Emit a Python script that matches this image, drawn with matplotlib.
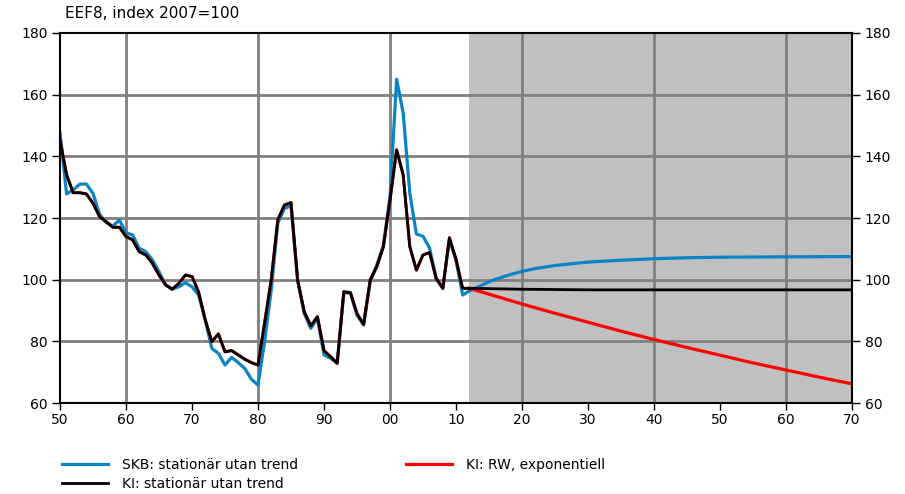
import numpy as np
import matplotlib
matplotlib.use("Agg")
import matplotlib.pyplot as plt

# historical years 1950-2012
hist_years = list(range(1950, 2013))

# SKB (blue), historical
skb_hist = [147.7, 127.8, 129.1, 131.0, 131.0, 128.0, 121.2, 118.5, 117.4, 119.3,
            115.2, 114.5, 110.2, 109.1, 106.4, 102.6, 98.3, 96.9, 97.7, 99.0,
            97.7, 95.0, 87.0, 77.7, 76.1, 72.3, 74.8, 73.1, 71.2, 67.7,
            65.8, 80.0, 96.6, 118.3, 123.1, 123.9, 99.9, 89.1, 84.2, 87.5,
            75.6, 74.5, 72.9, 95.8, 95.6, 88.5, 85.3, 99.3, 104.8, 111.2,
            127.0, 165.0, 154.0, 128.0, 114.8, 114.1, 110.2, 100.4, 97.2, 112.9,
            106.4, 95.0, 96.3]

# KI (black), historical
ki_hist = [145.3, 134.0, 128.2, 128.2, 127.8, 124.8, 120.4, 118.8, 117.0, 117.0,
           114.0, 112.9, 109.1, 108.0, 105.3, 101.5, 98.3, 96.9, 98.8, 101.5,
           101.0, 96.0, 87.0, 79.9, 82.4, 76.6, 77.0, 75.6, 74.2, 73.1,
           72.3, 86.0, 99.9, 119.4, 124.2, 125.0, 99.9, 89.6, 85.0, 88.0,
           77.0, 75.0, 72.9, 96.1, 95.8, 89.0, 85.5, 99.9, 104.2, 110.7,
           125.8, 142.1, 133.9, 110.7, 103.1, 108.0, 108.8, 100.4, 97.2, 113.6,
           106.6, 97.2, 97.2]

# forecasts from 2012
skb_fc_years = [2012, 2013, 2014, 2015, 2016, 2018, 2020, 2022, 2025, 2030,
                2035, 2040, 2045, 2050, 2060, 2070]
skb_fc = [96.3, 97.3, 98.3, 99.3, 100.1, 101.5, 102.7, 103.6, 104.6, 105.7,
          106.3, 106.8, 107.1, 107.3, 107.4, 107.5]

ki_fc_years = [2012, 2020, 2030, 2040, 2050, 2060, 2070]
ki_fc = [97.2, 96.9, 96.7, 96.7, 96.7, 96.7, 96.7]

rw_fc_years = [2012, 2015, 2020, 2025, 2030, 2035, 2040, 2045, 2050, 2055,
               2060, 2065, 2070]
rw_fc = [97.2, 95.3, 92.1, 89.1, 86.2, 83.3, 80.6, 78.0, 75.5, 73.0,
         70.7, 68.4, 66.2]

xtick_pos = list(range(1950, 2071, 10))
xtick_labels = ["50", "60", "70", "80", "90", "00", "10", "20", "30", "40", "50", "60", "70"]
ytick_pos = list(range(60, 181, 20))

blue = "#0a84c6"
red = "#ff0000"

fig = plt.figure(figsize=(9.05, 4.94), dpi=100)
ax = fig.add_axes([60 / 905, 1 - 403 / 494, 792 / 905, 370 / 494])

# forecast shading
ax.axvspan(2012, 2070, color="#c0c0c0", lw=0, zorder=0)

# grid
for x in range(1960, 2070, 20):
    ax.axvline(x, color="#808080", lw=2, zorder=1)
for y in range(80, 180, 20):
    ax.axhline(y, color="#808080", lw=2, zorder=1)

# series
ax.plot(hist_years, skb_hist, color=blue, lw=2.3, zorder=3,
        label="SKB: stationär utan trend")
ax.plot(skb_fc_years, skb_fc, color=blue, lw=2.3, zorder=3)
ax.plot(hist_years, ki_hist, color=red, lw=2.15, zorder=4)
ax.plot(rw_fc_years, rw_fc, color=red, lw=2.3, zorder=4)
ax.plot(hist_years, ki_hist, color="black", lw=2.0, zorder=5,
        label="KI: stationär utan trend")
ax.plot(ki_fc_years, ki_fc, color="black", lw=2.0, zorder=5)
ax.plot([], [], color=red, lw=2.3, label="KI: RW, exponentiell")

ax.set_xlim(1950, 2070)
ax.set_ylim(60, 180)
ax.set_xticks(xtick_pos)
ax.set_xticklabels(xtick_labels)
ax.set_yticks(ytick_pos)
ax.tick_params(axis="x", direction="out", length=5, width=1, labelsize=10, pad=2)
ax.tick_params(axis="y", direction="out", length=6, width=1, labelsize=10,
               left=True, right=True, labelleft=True, labelright=True, pad=3)
for s in ax.spines.values():
    s.set_linewidth(1.5)
    s.set_zorder(6)

fig.text(65 / 905, 1 - 14 / 494, "EEF8, index 2007=100", fontsize=11,
         ha="left", va="center")

fig.legend(loc="upper left", bbox_to_anchor=(62 / 905, 1 - 458 / 494), ncol=2,
           frameon=False, fontsize=10, handlelength=3.3, handletextpad=1.0,
           columnspacing=7.8, labelspacing=0.35, borderaxespad=0, borderpad=0)

fig.savefig("out.png", dpi=100)
